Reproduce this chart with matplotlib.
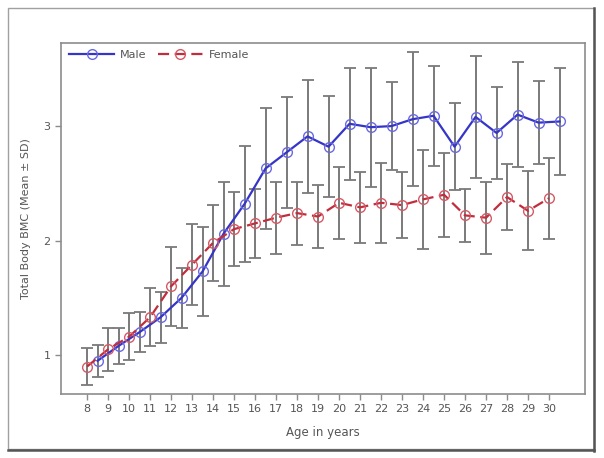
import matplotlib
matplotlib.use("Agg")
import matplotlib.pyplot as plt
from matplotlib.patches import Rectangle
from matplotlib.lines import Line2D
import numpy as np

MALE = "#3535c8"
FEMALE = "#c22d3d"
BAR = "#7a7a7a"
FRAME = "#8c8c8c"
TXT = "#555555"

# male values are plotted at half-year offsets, female at whole years
male_age = np.arange(8.5, 31.0, 1.0)
male_mean = [0.95, 1.08, 1.20, 1.33, 1.50, 1.73, 2.06, 2.32, 2.63, 2.77, 2.91, 2.82,
             3.02, 2.99, 3.00, 3.06, 3.09, 2.82, 3.08, 2.94, 3.10, 3.03, 3.04]
male_sd = [0.14, 0.155, 0.175, 0.225, 0.26, 0.385, 0.455, 0.51, 0.525, 0.485, 0.495, 0.44,
           0.49, 0.52, 0.385, 0.585, 0.435, 0.38, 0.53, 0.40, 0.46, 0.365, 0.465]

female_age = np.arange(8, 31)
female_mean = [0.90, 1.05, 1.16, 1.33, 1.60, 1.79, 1.98, 2.10, 2.15, 2.20, 2.24, 2.21,
               2.33, 2.29, 2.33, 2.31, 2.36, 2.40, 2.22, 2.20, 2.38, 2.26, 2.37]
female_sd = [0.165, 0.185, 0.205, 0.255, 0.345, 0.355, 0.33, 0.32, 0.30, 0.315, 0.275, 0.275,
             0.315, 0.31, 0.35, 0.29, 0.435, 0.365, 0.23, 0.315, 0.29, 0.345, 0.355]

x_ticks = list(range(8, 31))
y_ticks = [1, 2, 3]

fig = plt.figure(figsize=(6.04, 4.58), dpi=100)
ax = fig.add_axes([0.101, 0.1397, 0.8675, 0.7663])

# outer picture frame with a darker shadow on right/bottom
fig.patches.append(Rectangle((0.0132, 0.0197), 0.970, 0.963, transform=fig.transFigure,
                             fill=False, ec="#a0a0a0", lw=1.0))
fig.lines.append(Line2D([0.9835, 0.9835], [0.015, 0.983], transform=fig.transFigure,
                        color="#555555", lw=1.8))
fig.lines.append(Line2D([0.0132, 0.9835], [0.0175, 0.0175], transform=fig.transFigure,
                        color="#555555", lw=1.8))

for xs, m, s in ((male_age, male_mean, male_sd), (female_age, female_mean, female_sd)):
    ax.errorbar(xs, m, yerr=s, fmt="none", ecolor=BAR, elinewidth=1.4,
                capsize=4.5, capthick=1.3, zorder=1)

ax.plot(male_age, male_mean, color=MALE, lw=1.6, marker="o", ms=7,
        mfc="none", mec="#6a6ae0", mew=1.0, zorder=3, label="Male")
ax.plot(female_age, female_mean, color=FEMALE, lw=1.6, ls=(0, (5, 2.5)), marker="o", ms=7,
        mfc="none", mec="#d45a66", mew=1.0, zorder=3, label="Female")

ax.set_xlim(6.76, 31.71)
ax.set_ylim(0.66, 3.725)
ax.set_xticks(x_ticks)
ax.set_yticks(y_ticks)
ax.tick_params(colors=FRAME, labelcolor=TXT, labelsize=8, length=4, width=1)
for sp in ax.spines.values():
    sp.set_color(FRAME)
    sp.set_linewidth(1.2)

ax.set_xlabel("Age in years", fontsize=8.5, color=TXT, labelpad=8)
ax.set_ylabel("Total Body BMC (Mean \u00b1 SD)", fontsize=8, color=TXT, labelpad=9)

ax.legend(loc="upper left", ncol=2, frameon=False, fontsize=8, handlelength=4.1,
          handletextpad=0.5, columnspacing=1.0, borderaxespad=0.3, labelcolor=TXT,
          bbox_to_anchor=(0.0, 1.003))

fig.savefig("out.png", dpi=100)
